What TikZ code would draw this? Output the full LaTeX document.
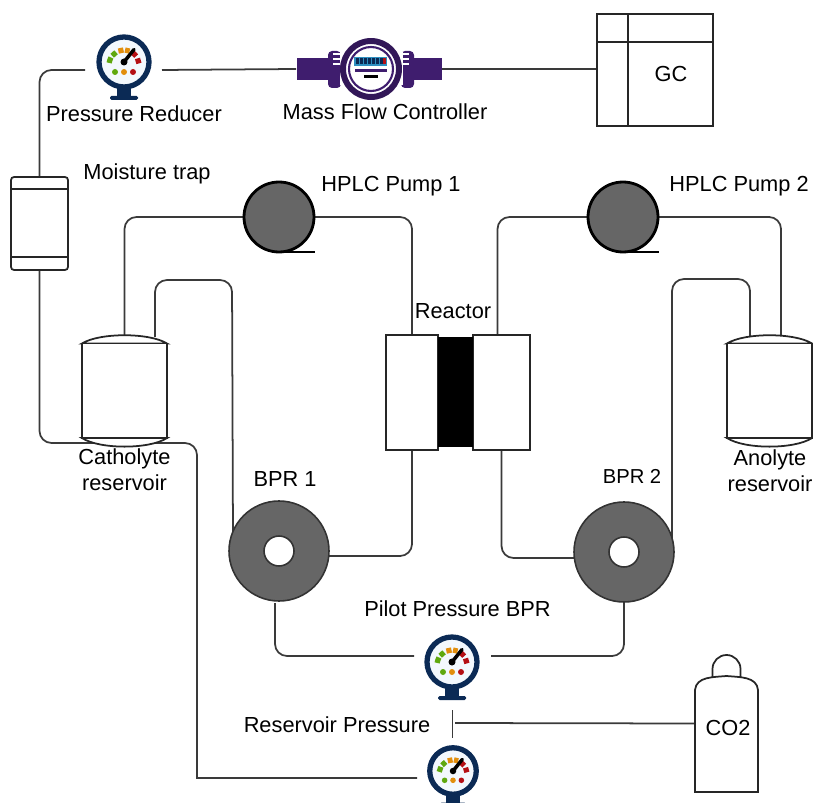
\documentclass[tikz,border=0pt]{standalone}
\usepackage{xcolor}
\usepackage{fontspec}
\setmainfont{Liberation Sans}
\usepackage{tikz}
\usetikzlibrary{arrows.meta,calc,backgrounds}
\definecolor{pipegrey}{HTML}{3A3A3A}
\definecolor{pumpgrey}{HTML}{666666}
\definecolor{dialnavy}{HTML}{0B2A55}
\definecolor{dialface}{HTML}{F3F8FD}
\definecolor{dialgreen}{HTML}{5FA80E}
\definecolor{dialorange}{HTML}{E28E0C}
\definecolor{dialred}{HTML}{B50F14}
\definecolor{meterviolet}{HTML}{3F1D6E}
\definecolor{meterblue}{HTML}{2E8FC0}
\newcommand{\vessel}[1]{%
  \draw[wall, fill=white] ($(#1.north west)+(0,-.17)$) .. controls ($(#1.north west)+(.35,.05)$) and ($(#1.north east)+(-.35,.05)$) .. ($(#1.north east)+(0,-.17)$) -- cycle;
  \draw[wall, fill=white] ($(#1.south west)+(0,.18)$) .. controls ($(#1.south west)+(.35,-.05)$) and ($(#1.south east)+(-.35,-.05)$) .. ($(#1.south east)+(0,.18)$) -- cycle;
  \draw[wall, fill=white] ($(#1.north west)+(0,-.17)$) rectangle ($(#1.south east)+(0,.18)$);
}

\begin{document}
\begin{tikzpicture}[
  pipe/.style={pipegrey, line width=1pt, rounded corners=0.24cm},
  wall/.style={black!85, line width=1pt},
  lbl/.style={font=\fontsize{12.4}{14.8}\selectfont, align=center, inner sep=0pt},
  pumpnode/.style={circle, draw=black, line width=1.6pt, fill=pumpgrey, minimum size=1.4cm, inner sep=0pt, outer sep=0pt},
  bprnode/.style={circle, draw=black!80, line width=0.9pt, fill=pumpgrey, minimum size=2cm, inner sep=0pt, outer sep=0pt},
  holenode/.style={circle, draw=black!80, line width=0.9pt, fill=white, minimum size=.6cm, inner sep=0pt},
  boxnode/.style={rectangle, draw=black!85, line width=1pt, fill=white, inner sep=0pt, outer sep=0pt},
  ghost/.style={rectangle, inner sep=0pt, outer sep=0pt},
  pics/gauge/.style={code={
    \draw[dialnavy, line width=3pt, fill=dialface] (0,0) circle (.5);
    \fill[dialnavy] (-.14,-.5) rectangle (.14,-.7);
    \fill[dialnavy, rounded corners=.03cm] (-.28,-.68) rectangle (.28,-.76);
    \begin{scope}[shift={(0,-.06)}]
      \foreach \a/\b/\c in {172/150/dialgreen, 142/122/dialgreen, 112/92/dialorange, 86/68/dialorange, 58/36/dialred, 26/6/dialred}
        \draw[\c, line width=3pt] (\a:.3) arc[start angle=\a, end angle=\b, radius=.3];
    \end{scope}
    \draw[black, line width=2pt, line cap=round] (0,0) -- (.2,.25);
    \fill[black] (0,0) circle (.07);
    \fill[dialgreen] (-.18,-.2) circle (.06);
    \fill[dialorange] (0,-.2) circle (.06);
    \fill[dialred] (.18,-.2) circle (.06);
  }},
  pics/flowmeter/.style={code={
    \fill[meterviolet] (-1.48,-.22) rectangle (1.42,.22);
    \foreach \s in {-1,1} {
      \fill[meterviolet, rounded corners=.08cm] (\s*.6,-.38) rectangle (\s*.86,.36);
      \fill[white] (\s*.58,-.32) rectangle (\s*.63,.34);
      \foreach \y in {.1,.2,.3}
        \fill[white] (\s*.6,\y-.02) rectangle (\s*.76,\y+.02);
    }
    \fill[white] (0,0) circle (.6);
    \draw[meterviolet!80!black, line width=3.4pt] (0,0) circle (.56);
    \draw[meterviolet, line width=1.2pt] (0,0) circle (.44);
    \fill[meterblue] (-.34,.06) rectangle (.32,.24);
    \foreach \x in {-.3,-.22,-.14,-.06,.02,.1,.18}
      \fill[dialnavy] (\x,.09) rectangle (\x+.06,.21);
    \fill[dialred] (.24,.09) rectangle (.3,.21);
    \fill[meterviolet] (-.32,-.06) rectangle (.32,0);
    \fill[black] (-.15,-.19) rectangle (.13,-.13);
  }},
]
\useasboundingbox (0,0) rectangle (16.26,-16.06);
\clip (0,0) rectangle (16.26,-16.06);

% gas line
\node[ghost, minimum width=1.54cm, minimum height=1.6cm] (reducer) at (2.47,-1.40) {};
\pic at (2.48,-1.24) {gauge};
\node[ghost, minimum width=2.92cm, minimum height=1.24cm] (mfc) at (7.38,-1.38) {};
\pic at (7.42,-1.38) {flowmeter};
\node[boxnode, minimum width=2.32cm, minimum height=2.24cm] (gc) at (13.1,-1.40) {};
\draw[wall] ($(gc.north west)+(0,-.56)$) -- ($(gc.north east)+(0,-.56)$);
\draw[wall, line width=1.3pt] ($(gc.north west)+(.62,0)$) -- ($(gc.south west)+(.62,0)$);
\node[boxnode, rounded corners=.06cm, minimum width=1.14cm, minimum height=1.86cm] (trap) at (0.79,-4.47) {};
\draw[wall] ($(trap.north west)+(0,-.24)$) -- ($(trap.north east)+(0,-.24)$);
\draw[wall] ($(trap.south west)+(0,.26)$) -- ($(trap.south east)+(0,.26)$);

% reservoirs
\node[ghost, minimum width=1.7cm, minimum height=2.24cm] (cathres) at (2.49,-7.82) {};
\vessel{cathres}
\node[ghost, minimum width=1.7cm, minimum height=2.24cm] (anores) at (15.39,-7.82) {};
\vessel{anores}
\coordinate (cathout) at (3.1,-6.74);
\coordinate (anoout) at (15,-6.72);
\coordinate (anoin) at (15.62,-6.72);
\coordinate (turn) at (3.94,-8.86);

% pumps
\node[pumpnode] (pump1) at (5.58,-4.34) {};
\draw[black, line width=1.3pt] (pump1.south) -- ++(.72,0);
\node[pumpnode] (pump2) at (12.46,-4.34) {};
\draw[black, line width=1.3pt] (pump2.south) -- ++(.72,0);

% reactor
\node[boxnode, minimum width=1.04cm, minimum height=2.3cm] (cellL) at (8.24,-7.85) {};
\node[boxnode, minimum width=1.14cm, minimum height=2.3cm] (cellR) at (10.03,-7.85) {};
\node[rectangle, fill=black, minimum width=.7cm, minimum height=2.2cm, inner sep=0pt] (membrane) at (9.11,-7.84) {};

% BPR
\node[bprnode] (bpr1) at (5.58,-11.02) {};
\node[holenode] (hole1) at (bpr1) {};
\node[bprnode] (bpr2) at (12.48,-11.04) {};
\node[holenode] (hole2) at (bpr2) {};

% pressure gauges and CO2
\node[ghost, minimum width=1.54cm, minimum height=2.16cm] (pilot) at (9.05,-13.12) {};
\pic at (9.04,-13.24) {gauge};
\node[ghost, minimum width=1.42cm, minimum height=1.6cm] (respress) at (9.05,-15.56) {};
\pic[scale=.93] at (9.06,-15.42) {gauge};
\node[ghost, minimum width=1.26cm, minimum height=2.74cm] (co2) at (14.53,-14.47) {};
\draw[wall] (co2.south west) -- ++(0,2.04) to[out=85,in=185] ++(.63,.28) to[out=-5,in=95] ++(.63,-.28) -- (co2.south east) -- cycle;
\draw[wall] ($(co2.north)+(-.28,-.44)$) -- ++(0,.16) arc[start angle=180, end angle=0, radius=.28] -- ++(0,-.16);
\coordinate (tee) at (9.1,-14.46);

% tubing
\begin{scope}[on background layer]
\draw[pipe] (reducer.west) -| (trap.north);
\draw[pipe] (reducer.east) -- (mfc.west);
\draw[pipe] (mfc.east) -- (mfc.east -| gc.west);
\draw[pipe] (trap.south) |- (turn) [sharp corners] |- (respress.west);
\draw[pipe] (pump1.west) -| (cathres.north);
\draw[pipe] (pump1.east) -| (cellL.north);
\draw[pipe] (pump2.west) -| ($(cellR.north)+(-.08,0)$);
\draw[pipe] (pump2.east) -| (anoin);
\draw[pipe] (cathout) |- (4.64,-5.6) -- (bpr1.157);
\draw[pipe] (anoout) |- (13.44,-5.58) -- (bpr2.16);
\draw[pipe] ($(bpr1.east)+(0,-.1)$) -| (cellL.south);
\draw[pipe] ($(bpr2.west)+(0,-.12)$) -| (cellR.south);
\draw[pipe] ($(bpr1.south)+(-.08,-.04)$) |- (pilot.west);
\draw[pipe] (bpr2.south) |- (pilot.east);
\draw[pipe] (pilot.south) -- (respress.north);
\draw[pipe] (tee) -- (co2.west);
\end{scope}

% labels
\node[lbl] (l1) at (2.68,-2.28) {Pressure Reducer};
\node[lbl] (l2) at (7.70,-2.24) {Mass Flow Controller};
\node[lbl] (l3) at (13.42,-1.48) {GC};
\node[lbl] (l4) at (2.94,-3.47) {Moisture trap};
\node[lbl] (l5) at (7.82,-3.73) {HPLC Pump 1};
\node[lbl] (l6) at (14.78,-3.73) {HPLC Pump 2};
\node[lbl] (l7) at (9.06,-6.22) {Reactor};
\node[lbl] (l8) at (2.49,-9.40) {Catholyte\\reservoir};
\node[lbl] (l9) at (5.70,-9.58) {BPR 1};
\node[lbl, font=\fontsize{11.5}{14}\selectfont] (l10) at (12.64,-9.52) {BPR 2};
\node[lbl] (l11) at (15.40,-9.42) {Anolyte\\reservoir};
\node[lbl] (l12) at (9.15,-12.18) {Pilot Pressure BPR};
\node[lbl] (l13) at (6.74,-14.50) {Reservoir Pressure};
\node[lbl] (l14) at (14.56,-14.56) {CO2};
\end{tikzpicture}
\end{document}
